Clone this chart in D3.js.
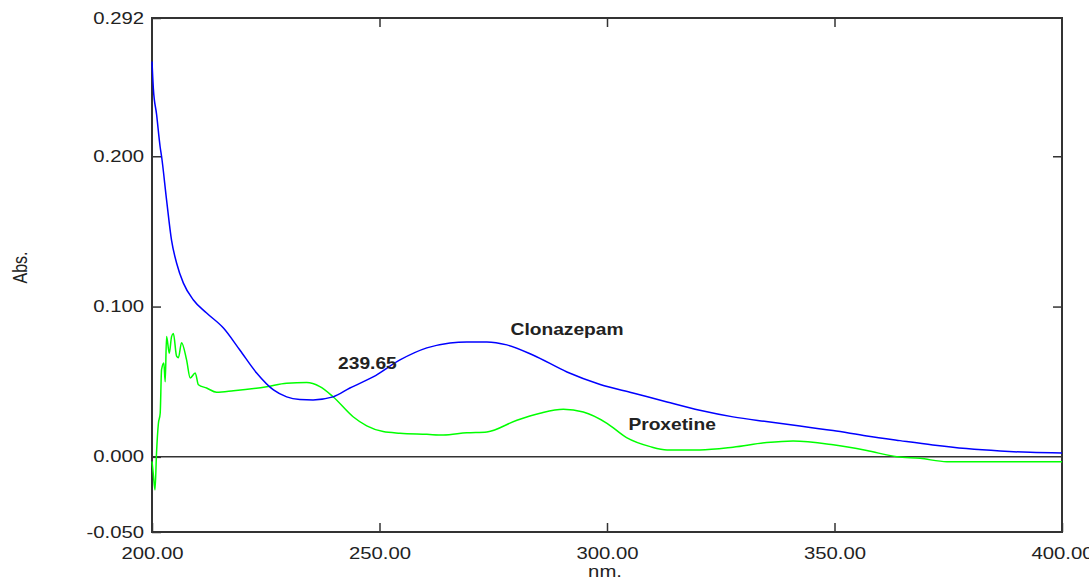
<!DOCTYPE html>
<html>
<head>
<meta charset="utf-8">
<script src="https://cdn.jsdelivr.net/npm/d3@7"></script>
<style>
  body { margin: 0; background: #fff; }
  #chart { width: 1089px; height: 580px; }
  text { font-family: "Liberation Sans", Arial, sans-serif; fill: #222; }
</style>
</head>
<body>
<div id="chart"></div>
<script>
// spectra
var clonaNm  = [200.0, 200.3, 201.0, 201.8, 202.1, 203.2, 204.3, 205.4, 206.9, 209.1, 212.0, 215.7, 219.3, 223.0, 226.7, 229.6, 232.5, 235.4, 239.8, 243.5, 248.6, 254.5, 260.4, 265.5, 269.2, 273.6, 278.0, 283.7, 291.2, 298.5, 305.7, 313.2, 320.4, 327.7, 335.0, 342.4, 349.7, 357.1, 364.4, 371.6, 379.0, 386.4, 393.0, 400.0];
var clonaAbs = [0.263, 0.245, 0.228, 0.206, 0.200, 0.171, 0.144, 0.129, 0.1156, 0.1044, 0.0957, 0.0857, 0.0711, 0.0558, 0.0445, 0.0399, 0.0382, 0.0379, 0.0399, 0.0458, 0.0532, 0.0645, 0.0725, 0.0758, 0.0765, 0.0765, 0.0745, 0.0678, 0.0565, 0.0482, 0.0425, 0.0365, 0.031, 0.0266, 0.0235, 0.0206, 0.0175, 0.0139, 0.0108, 0.0079, 0.0055, 0.0039, 0.0030, 0.0026];

var proxNm  = [200.0, 200.3, 200.66, 201.0, 201.4, 201.8, 202.1, 202.6, 202.9, 203.2, 203.8, 204.3, 204.7, 205.4, 205.8, 206.5, 207.6, 208.4, 209.5, 210.2, 212.0, 214.2, 217.9, 225.2, 229.6, 234.0, 236.9, 239.8, 244.2, 247.2, 250.8, 254.5, 260.4, 264.0, 269.2, 273.6, 280.2, 285.3, 290.4, 294.8, 300.0, 304.3, 309.5, 313.2, 320.4, 327.7, 335.1, 340.9, 349.7, 357.1, 363.7, 368.8, 374.7, 400.0];
var proxAbs = [-0.003, -0.012, -0.022, 0.003, 0.022, 0.029, 0.058, 0.0625, 0.050, 0.080, 0.069, 0.080, 0.082, 0.067, 0.066, 0.076, 0.0645, 0.0525, 0.0558, 0.048, 0.0458, 0.043, 0.044, 0.0467, 0.049, 0.0494, 0.0467, 0.040, 0.0267, 0.0206, 0.0168, 0.0157, 0.015, 0.0145, 0.016, 0.0166, 0.0244, 0.029, 0.0316, 0.0298, 0.0223, 0.0128, 0.0068, 0.0046, 0.0046, 0.0064, 0.0095, 0.0106, 0.008, 0.0042, 0.0001, -0.001, -0.0032, -0.0032];

var xTicks = [200, 250, 300, 350, 400];
var yTicks = [-0.05, 0, 0.1, 0.2, 0.292];

var labels = [
  {text: "Clonazepam", nm: 278.8, abs: 0.081},
  {text: "239.65", nm: 240.9, abs: 0.0585},
  {text: "Proxetine", nm: 304.7, abs: 0.018}
];

var width = 1089, height = 580;
var margin = {top: 18, left: 152, right: 27, bottom: 48};
var stretch = 1.27; // text in the picture is drawn wide

var svg = d3.select("#chart").append("svg")
  .attr("width", width)
  .attr("height", height);

var xScale = d3.scaleLinear().domain([200, 400]).range([margin.left, width - margin.right]);
var yScale = d3.scaleLinear().domain([-0.05, 0.292]).range([height - margin.bottom, margin.top]);

// zero line
svg.append("line")
  .attr("x1", xScale(200)).attr("x2", xScale(400))
  .attr("y1", yScale(0)).attr("y2", yScale(0))
  .attr("stroke", "#333").attr("stroke-width", 1.5);

// axes with inward ticks
var bottom = svg.append("g")
  .attr("transform", `translate(0,${height - margin.bottom})`)
  .call(d3.axisBottom(xScale).tickValues(xTicks).tickSize(-9).tickPadding(16)
    .tickFormat(function(d) { return d.toFixed(2); }));
bottom.selectAll("text").attr("transform", `scale(${stretch},1)`);

var left = svg.append("g")
  .attr("transform", `translate(${margin.left},0)`)
  .call(d3.axisLeft(yScale).tickValues(yTicks).tickSize(-9).tickPadding(8)
    .tickFormat(function(d) { return d.toFixed(3); }));
left.selectAll("text").attr("x", -8 / stretch).attr("transform", `scale(${stretch},1)`);

svg.append("g")
  .attr("transform", `translate(0,${margin.top})`)
  .call(d3.axisTop(xScale).tickValues([250, 300, 350]).tickSize(-9).tickFormat(""));

svg.append("g")
  .attr("transform", `translate(${width - margin.right},0)`)
  .call(d3.axisRight(yScale).tickValues([0.1, 0.2]).tickSize(-9).tickFormat(""));

svg.selectAll(".domain").remove();
svg.selectAll(".tick line").attr("stroke", "#333").attr("stroke-width", 1.5);
svg.selectAll(".tick text").style("font-size", "16px").attr("fill", "#222");

// frame
svg.append("rect")
  .attr("x", margin.left).attr("y", margin.top)
  .attr("width", width - margin.left - margin.right)
  .attr("height", height - margin.top - margin.bottom)
  .attr("fill", "none").attr("stroke", "#333").attr("stroke-width", 2);

var line = d3.line()
  .x(function(d) { return xScale(d[0]); })
  .y(function(d) { return yScale(d[1]); })
  .curve(d3.curveMonotoneX);

svg.append("path")
  .datum(d3.zip(proxNm, proxAbs))
  .attr("d", line)
  .attr("fill", "none").attr("stroke", "#00ff00").attr("stroke-width", 1.5);

svg.append("path")
  .datum(d3.zip(clonaNm, clonaAbs))
  .attr("d", line)
  .attr("fill", "none").attr("stroke", "#0000ff").attr("stroke-width", 1.5);

// annotations
svg.selectAll(".lbl")
  .data(labels)
  .enter().append("text")
  .attr("class", "lbl")
  .attr("transform", function(d) { return `translate(${xScale(d.nm)},${yScale(d.abs)}) scale(1.2,1)`; })
  .style("font-size", "16px")
  .style("font-weight", "bold")
  .text(function(d) { return d.text; });

// axis titles
svg.append("text")
  .attr("transform", `translate(26.5,267.5) scale(${stretch},1) rotate(-90)`)
  .attr("text-anchor", "middle")
  .style("font-size", "16px")
  .text("Abs.");

svg.append("text")
  .attr("transform", `translate(605,577) scale(${stretch},1)`)
  .attr("text-anchor", "middle")
  .style("font-size", "16px")
  .text("nm.");
</script>
</body>
</html>
